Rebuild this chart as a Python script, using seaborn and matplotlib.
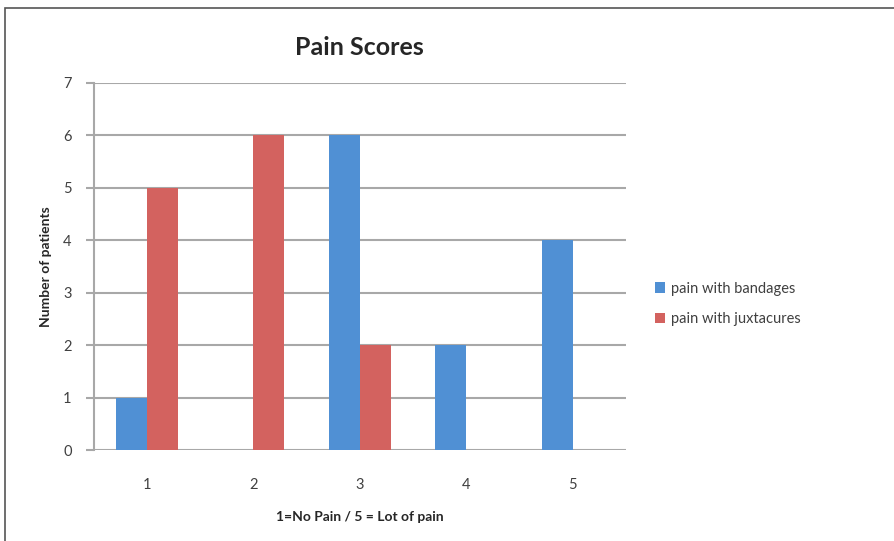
import matplotlib
matplotlib.use("Agg")
import matplotlib.pyplot as plt
import pandas as pd
import seaborn as sns
from matplotlib.patches import Rectangle

SCORES = ["1", "2", "3", "4", "5"]
BANDAGES = [1, 0, 6, 2, 4]
JUXTACURES = [5, 6, 2, 0, 0]
SERIES = ["pain with bandages", "pain with juxtacures"]
COLORS = {"pain with bandages": "#5090D4", "pain with juxtacures": "#D3625F"}

df = pd.DataFrame({
    "score": SCORES * 2,
    "count": BANDAGES + JUXTACURES,
    "series": [SERIES[0]] * len(SCORES) + [SERIES[1]] * len(SCORES),
})

sns.set_theme(style="white")
plt.rcParams["font.family"] = ["Lato", "DejaVu Sans"]

fig = plt.figure(figsize=(8.94, 5.41), dpi=100)
ax = fig.add_axes([0.105, 0.168, 0.595, 0.679])

sns.barplot(data=df, x="score", y="count", hue="series", order=SCORES,
            hue_order=SERIES, palette=COLORS, width=0.58, saturation=1,
            edgecolor="none", linewidth=0, ax=ax, zorder=3)

ax.set_ylim(0, 7)
ax.set_yticks(range(8))
ax.set_xlim(-0.5, 4.5)
ax.grid(axis="y", color="#A8A8A8", linewidth=1.5, zorder=0)
ax.set_axisbelow(True)
for s in ["top", "right", "bottom"]:
    ax.spines[s].set_visible(False)
ax.spines["left"].set_color("#A8A8A8")
ax.spines["left"].set_linewidth(1.5)
ax.tick_params(axis="y", left=True, length=6, width=1.5, color="#A8A8A8",
               labelsize=10.5, labelcolor="#404040", pad=10)
ax.tick_params(axis="x", bottom=False, labelsize=10.5, labelcolor="#404040", pad=14)

ax.set_title("Pain Scores", fontsize=18, fontweight="bold", pad=20)
ax.set_xlabel("1=No Pain / 5 = Lot of pain", fontsize=10, fontweight="bold", labelpad=14)
ax.set_ylabel("Number of patients", fontsize=10, fontweight="bold", labelpad=8)

leg = ax.legend(loc="center left", bbox_to_anchor=(1.03, 0.398), frameon=False,
                fontsize=10.5, handlelength=0.7, handleheight=0.7, handletextpad=0.4,
                labelspacing=1.15, labelcolor="#404040")

fig.patches.append(Rectangle((5 / 894, -0.1), 1.2, 533 / 541 + 0.1,
                             transform=fig.transFigure, fill=False,
                             edgecolor="#555555", linewidth=1.2))

fig.savefig("out.png", dpi=100)
